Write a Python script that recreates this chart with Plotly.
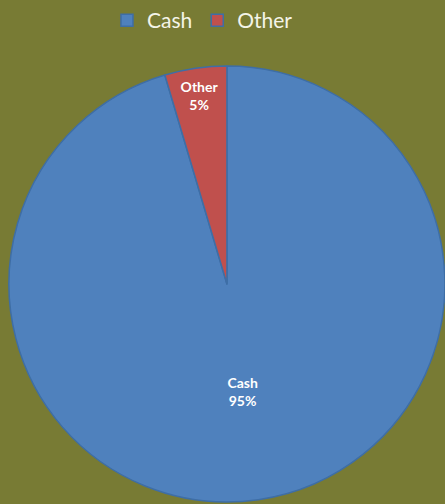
import plotly.graph_objects as go

labels = ["Cash", "Other"]
values = [95.4, 4.6]
colors = ["#4f81bd", "#c0504d"]

fig = go.Figure(go.Pie(
    labels=labels,
    values=values,
    sort=False,
    direction="clockwise",
    rotation=0,
    marker=dict(colors=colors, line=dict(color="#3e6ea6", width=1.5)),
    texttemplate="<b>%{label}</b><br><b>%{percent:.0%}</b>",
    textposition="inside",
    insidetextorientation="horizontal",
    textfont=dict(family="Lato, Open Sans, sans-serif", size=14, color="white"),
    domain=dict(x=[0.02, 1.0], y=[0.004, 0.869]),
    hoverinfo="label+percent",
))

fig.update_layout(
    width=445, height=504,
    margin=dict(l=0, r=0, t=0, b=0),
    paper_bgcolor="#787b34",
    plot_bgcolor="#787b34",
    showlegend=True,
    legend=dict(
        orientation="h", x=0.455, xanchor="center", y=1.0, yanchor="top",
        font=dict(family="Lato, Open Sans, sans-serif", size=21, color="#f4f4e8"),
        itemwidth=30,
    ),
)

fig.write_html("out.html")
